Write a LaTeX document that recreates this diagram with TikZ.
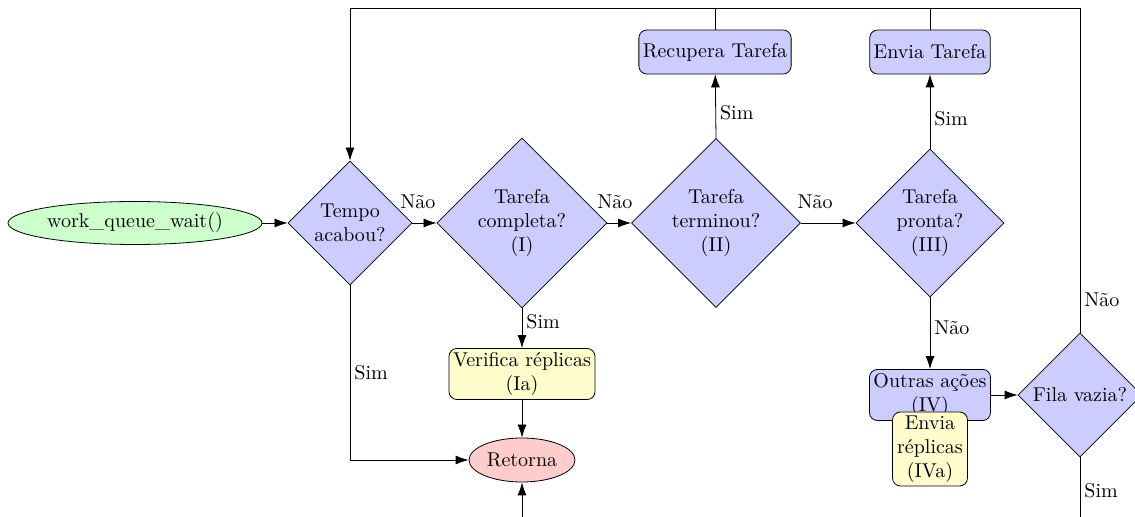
\documentclass[tikz,border=0pt]{standalone}
\usetikzlibrary{shapes.geometric,arrows.meta}
\begin{document}
\begin{tikzpicture}[x=0.5pt,y=-0.5pt,
  dec/.style={diamond, draw, fill=blue!20, align=center, inner sep=0pt},
  proc/.style={rectangle, rounded corners=4pt, draw, fill=blue!20, align=center, inner sep=2pt},
  subp/.style={proc, fill=yellow!20},
  term/.style={ellipse, draw, inner sep=0pt},
  arr/.style={-{Latex[length=6.5pt,width=4.5pt]}},
  lbl/.style={inner sep=2pt},
  toplbl/.style={inner sep=2pt, above=5pt}]
\useasboundingbox (0,0) rectangle (1135,517);
\clip (0,0) rectangle (1135,517);
% nodes
\node[term, fill=green!20, minimum width=127pt, minimum height=21.5pt] (start) at (135,223) {work\_queue\_wait()};
\node[dec, minimum size=62pt] (tempo) at (350,223) {Tempo\\acabou?};
\node[dec, minimum size=85pt] (comp) at (522,223) {Tarefa\\completa?\\(I)};
\node[dec, minimum size=84.5pt] (term) at (716,223) {Tarefa\\terminou?\\(II)};
\node[dec, minimum size=74pt] (pron) at (930,223) {Tarefa\\pronta?\\(III)};
\node[dec, minimum size=62pt] (fila) at (1080,395) {Fila vazia?};
\node[proc, minimum height=22pt] (rec) at (715,52) {Recupera Tarefa};
\node[proc, minimum height=22pt] (env) at (930,52) {Envia Tarefa};
\node[subp, minimum height=25pt] (ver) at (522,374) {Verifica réplicas\\(Ia)};
\node[term, fill=red!20, minimum width=53pt, minimum height=22pt] (ret) at (522,460) {Retorna};
\node[proc, minimum height=25.5pt] (out) at (930,395) {Outras ações\\(IV)};
% helper coordinates
\coordinate (tr) at (1080,8);
\coordinate (bot) at (1080,560);
% connectors
\draw[arr] (start) -- (tempo);
\draw[arr] (tempo) -- node[toplbl, pos=0.23]{Não} (comp);
\draw[arr] (comp) -- node[toplbl, pos=0.31]{Não} (term);
\draw[arr] (term) -- node[toplbl, pos=0.26]{Não} (pron);
\draw[arr] (tempo.south) |- node[lbl, right, pos=0.25]{Sim} (ret.west);
\draw[arr] (comp.south) -- node[lbl, right, pos=0.34]{Sim} (ver);
\draw[arr] (ver) -- (ret);
\draw[arr] (term.north) -- node[lbl, right, pos=0.4]{Sim} (rec);
\draw[arr] (pron.north) -- node[lbl, right, pos=0.4]{Sim} (env);
\draw[arr] (pron.south) -- node[lbl, right, pos=0.42]{Não} (out);
\draw[arr] (out) -- (fila);
\draw[arr] (fila.north) -- node[lbl, right, pos=0.1]{Não} (tr) -| (tempo.north);
\draw (rec.north) -- (rec.north |- tr);
\draw (env.north) -- (env.north |- tr);
\draw[arr] (fila.south) -- node[lbl, right, pos=0.32]{Sim} (bot) -| (ret.south);
\node[subp, minimum width=37.5pt, minimum height=37pt, inner sep=1pt] (envr) at (930,449) {Envia\\réplicas\\(IVa)};
\end{tikzpicture}
\end{document}
